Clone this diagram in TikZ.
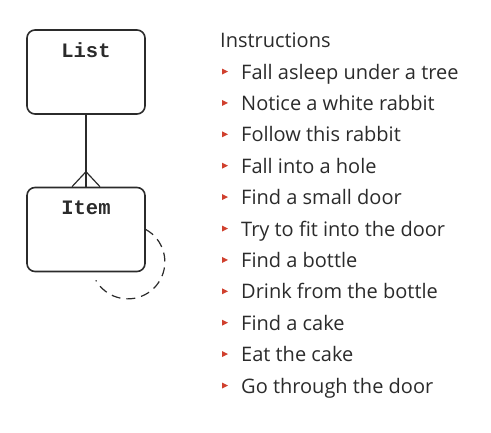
\documentclass[tikz,border=0pt]{standalone}
\usepackage{fontspec}
\setmainfont{Open Sans}
\setmonofont{Liberation Mono}
\definecolor{bulletred}{HTML}{D0402E}
\definecolor{inkgray}{HTML}{2B2B2B}

\begin{document}
\begin{tikzpicture}[x=1pt, y=-1pt,
    entity/.style={draw=inkgray, line width=1.6pt, rounded corners=8pt,
        minimum width=118pt, minimum height=84pt, inner sep=0pt},
    entityname/.style={anchor=base, font=\ttfamily\bfseries\fontsize{20.5}{20.5}\selectfont, text=inkgray, inner sep=0pt},
    steptext/.style={anchor=base west, font=\fontsize{20}{20}\selectfont, text=inkgray, inner sep=0pt},
    bulletmark/.style={fill=bulletred}]
    \useasboundingbox (0,0) rectangle (491,432);

    % Entities
    \node[entity] (list) at (86,72) {};
    \node[entityname] (listname) at (86,57) {List};
    \node[entity] (item) at (86,229.5) {};
    \node[entityname] (itemname) at (86,214) {Item};

    % One-to-many link with crow's foot
    \draw[inkgray, line width=1.2pt] (list.south) -- (item.north);
    \draw[inkgray, line width=1.2pt] ([xshift=-14pt]item.north) -- ([yshift=15pt]item.north) -- ([xshift=14pt]item.north);

    % Self reference
    \draw[inkgray, line width=1.2pt, dash pattern=on 9pt off 6pt] (item.east) arc[start angle=-61, end angle=150, radius=37];

    % Instructions
    \node[steptext] (title) at (220,47) {Instructions};
    \foreach \txt [count=\i] in {Fall asleep under a tree, Notice a white rabbit,
        Follow this rabbit, Fall into a hole, Find a small door,
        Try to fit into the door, Find a bottle, Drink from the bottle,
        Find a cake, Eat the cake, Go through the door} {
        \node[steptext] (step\i) at (241,{79+31.4*(\i-1)}) {\txt};
        \fill[bulletmark] ([xshift=-19pt,yshift=10.5pt]step\i.base west) -- ++(6,3) -- ++(-6,3) -- cycle;
    }
\end{tikzpicture}
\end{document}
